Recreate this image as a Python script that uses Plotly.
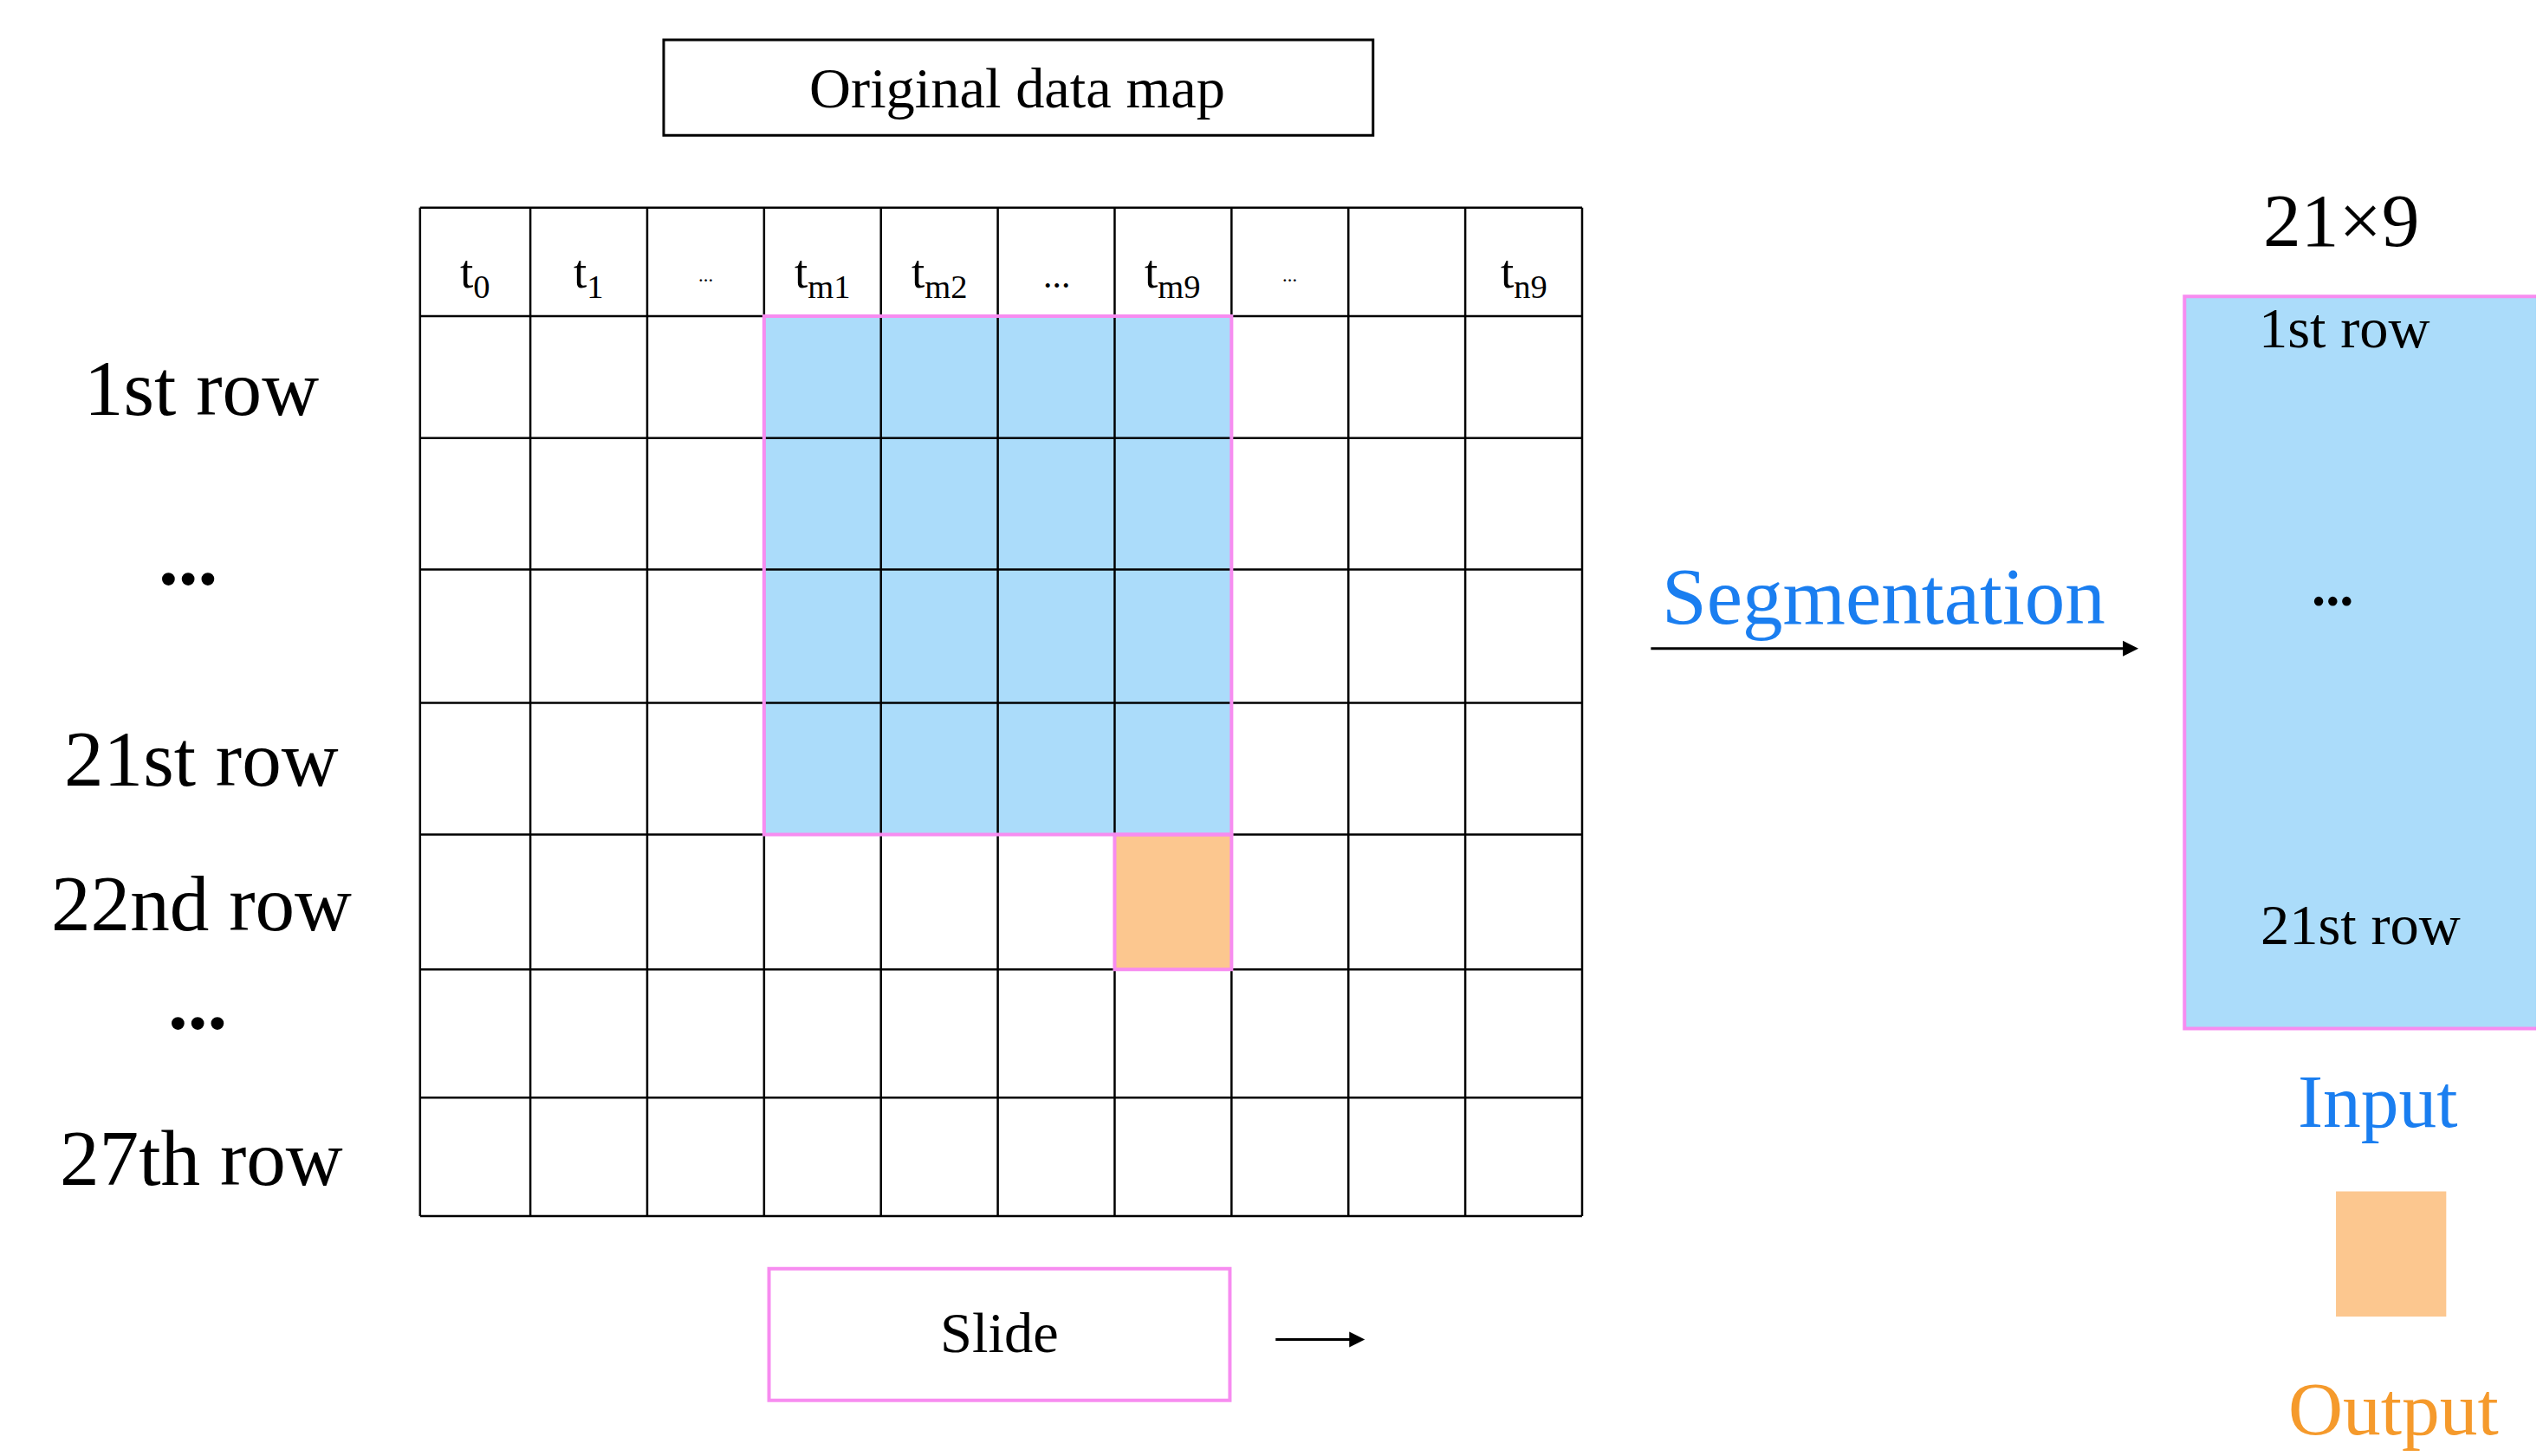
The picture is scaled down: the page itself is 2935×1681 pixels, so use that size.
import plotly.graph_objects as go

S = 2935 / 1545
col_edges = [251, 318, 389, 460, 531, 602, 673, 744, 815, 886, 957]
row_edges = [122, 188, 262, 342, 423, 503, 585, 663, 735]
col_labels = ["t<sub>0</sub>", "t<sub>1</sub>", "...", "t<sub>m1</sub>", "t<sub>m2</sub>", "...",
              "t<sub>m9</sub>", "...", "", "t<sub>n9</sub>"]
col_label_sizes = [29, 29, 12, 29, 29, 22, 29, 12, 29, 29]
row_labels = ["1st row", "<b>...</b>", "21st row", "22nd row", "<b>...</b>", "27th row"]
row_label_y = [232, 335, 457, 545, 605, 700]
row_label_x = [118, 110, 118, 118, 116, 118]

F = "Liberation Serif, Times New Roman, serif"
fig = go.Figure()
shapes, ann = [], []

def rect(x0, y0, x1, y1, line="black", fill=None, w=2.5):
    shapes.append(dict(type="rect", x0=x0, x1=x1, y0=y0, y1=y1, xref="x", yref="y",
                       line=dict(color=line, width=w),
                       fillcolor=fill if fill else "rgba(0,0,0,0)", layer="above" if not fill else "below"))

def text(x, y, t, size, color="black", xanchor="center"):
    ann.append(dict(x=x, y=y, xref="x", yref="y", text=t, showarrow=False,
                    font=dict(family=F, size=size * S, color=color), xanchor=xanchor, yanchor="middle"))

PINK = "#f78cf0"
rect(460, 188, 744, 503, line="rgba(0,0,0,0)", fill="#abdcfa")
rect(673, 503, 744, 585, line="rgba(0,0,0,0)", fill="#fcc78f")
for x in col_edges:
    shapes.append(dict(type="line", x0=x, x1=x, y0=row_edges[0], y1=row_edges[-1], xref="x", yref="y",
                       line=dict(color="black", width=2.5)))
for y in row_edges:
    shapes.append(dict(type="line", x0=col_edges[0], x1=col_edges[-1], y0=y, y1=y, xref="x", yref="y",
                       line=dict(color="black", width=2.5)))
rect(460, 188, 744, 503, line=PINK, w=4)
rect(673, 503, 744, 585, line=PINK, w=4)

for i, lab in enumerate(col_labels):
    cx = (col_edges[i] + col_edges[i + 1]) / 2
    text(cx, 163, lab, col_label_sizes[i])
for lab, x, y in zip(row_labels, row_label_x, row_label_y):
    text(x, y, lab, 48)

rect(399, 20, 830, 78, w=3)
text(614, 49, "Original data map", 35)

text(1140, 358, "Segmentation", 49, color="#1a7ef0")
ann.append(dict(x=1295, y=390, ax=998, ay=390, xref="x", yref="y", axref="x", ayref="y", text="",
                showarrow=True, arrowhead=2, arrowsize=1.2, arrowwidth=3, arrowcolor="black"))

text(1418, 130, "21×9", 46)
rect(1323, 176, 1540, 621, line=PINK, fill="#abdcfa")
rect(1323, 176, 1540, 621, line=PINK, w=4)
text(1420, 195, "1st row", 35)
text(1413, 352, "<b>...</b>", 34)
text(1430, 558, "21st row", 35)
text(1440, 665, "Input", 46, color="#1a7ef0")
rect(1415, 720, 1482, 796, line="rgba(0,0,0,0)", fill="#fcc78f")
text(1450, 852, "Output", 46, color="#f59a2c")

rect(463, 767, 743, 847, line=PINK, w=4)
text(603, 806, "Slide", 35)
ann.append(dict(x=825, y=810, ax=770, ay=810, xref="x", yref="y", axref="x", ayref="y", text="",
                showarrow=True, arrowhead=2, arrowsize=1.2, arrowwidth=3, arrowcolor="black"))

fig.update_layout(width=2935, height=1681, margin=dict(l=0, r=0, t=0, b=0),
                  plot_bgcolor="white", paper_bgcolor="white", shapes=shapes, annotations=ann,
                  showlegend=False)
fig.update_xaxes(range=[0, 1545], visible=False)
fig.update_yaxes(range=[885, 0], visible=False)
fig.write_html("out.html")
